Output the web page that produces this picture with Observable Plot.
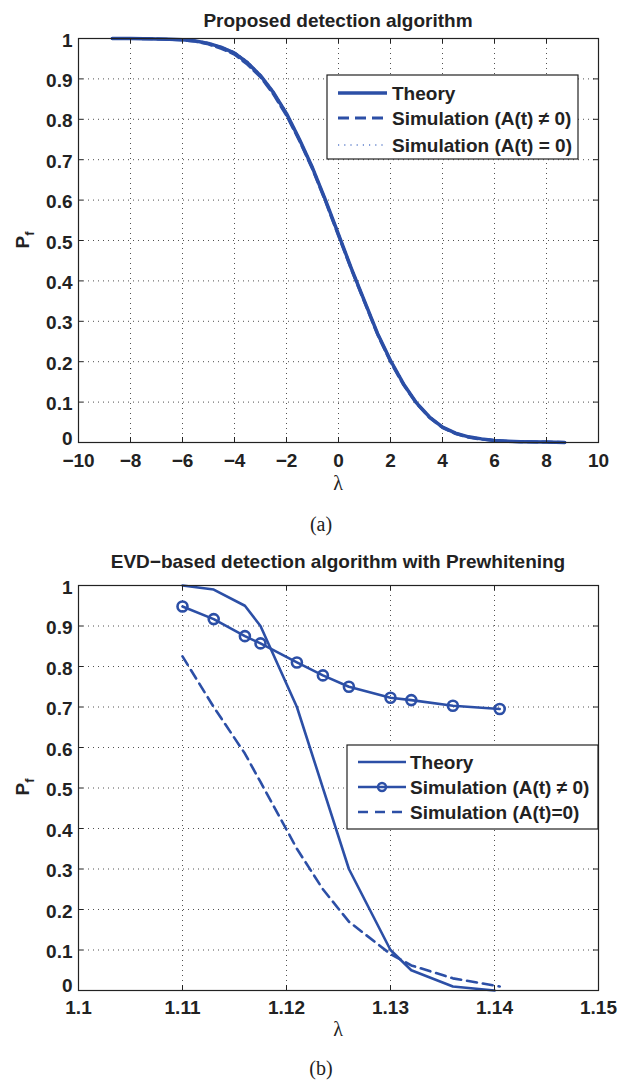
<!DOCTYPE html>
<html><head><meta charset="utf-8">
<script src="https://cdn.jsdelivr.net/npm/d3@7"></script>
<script src="https://cdn.jsdelivr.net/npm/@observablehq/plot@0.6"></script>
<style>
body{margin:0;background:#fff;width:629px;height:1081px;position:relative;overflow:hidden}
.abs{position:absolute;left:0}
</style></head><body>
<div id="c1" class="abs" style="top:0"></div>
<div id="c2" class="abs" style="top:540px"></div>
<svg id="ov" class="abs" style="top:0" width="629" height="1081" xmlns="http://www.w3.org/2000/svg"></svg>
<script>
// ---------- Data: panel (a) Proposed detection algorithm ----------
const aLambda = [-8.7,-8,-7,-6.5,-6,-5.5,-5,-4.5,-4,-3.5,-3,-2.5,-2,-1.5,-1,-0.5,0,0.5,1,1.5,2,2.5,3,3.5,4,4.5,5,5.5,6,6.5,7,8,8.7];
const aTheory = [1.0,1.0,0.999,0.998,0.997,0.994,0.988,0.978,0.964,0.94,0.908,0.866,0.814,0.75,0.68,0.60,0.515,0.43,0.35,0.27,0.203,0.145,0.098,0.063,0.038,0.023,0.014,0.009,0.005,0.003,0.002,0.001,0.0];
const aSimNonzero = [1.0,1.0,0.999,0.998,0.996,0.993,0.986,0.975,0.961,0.936,0.905,0.862,0.81,0.747,0.677,0.597,0.512,0.428,0.348,0.268,0.2,0.143,0.097,0.062,0.037,0.022,0.013,0.008,0.005,0.003,0.002,0.001,0.0];
const aSimZero = [1.0,1.0,0.999,0.998,0.997,0.995,0.989,0.979,0.966,0.942,0.91,0.868,0.816,0.752,0.682,0.602,0.517,0.432,0.352,0.272,0.205,0.147,0.099,0.064,0.039,0.024,0.015,0.009,0.006,0.003,0.002,0.001,0.0];
const aXTicks = [-10,-8,-6,-4,-2,0,2,4,6,8,10];
const yTicks = [0,0.1,0.2,0.3,0.4,0.5,0.6,0.7,0.8,0.9,1];

// ---------- Data: panel (b) EVD-based detection with prewhitening ----------
const bLambdaTheory = [1.11,1.113,1.116,1.1175,1.121,1.126,1.13,1.132,1.136,1.14];
const bTheory = [1.0,0.99,0.95,0.90,0.70,0.30,0.10,0.05,0.01,0.0];
const bLambdaSim = [1.11,1.113,1.116,1.1175,1.121,1.1235,1.126,1.13,1.132,1.136,1.1405];
const bSimNonzero = [0.948,0.917,0.875,0.857,0.81,0.778,0.75,0.723,0.717,0.703,0.695];
const bLambdaZero = [1.11,1.113,1.116,1.1175,1.121,1.1235,1.126,1.13,1.132,1.136,1.1405];
const bSimZero = [0.825,0.70,0.585,0.515,0.35,0.25,0.17,0.09,0.062,0.03,0.01];
const bXTicks = [1.1,1.11,1.12,1.13,1.14,1.15];

const BLUE = "#2c4fa6";
const FONT = '"Liberation Sans", Arial, Helvetica, sans-serif';
const SERIF = '"Liberation Serif", "Times New Roman", serif';
const FS = 19;
const fmtY = d => String(d);
const axisText = {fontSize: FS, fontWeight: "bold", fontFamily: FONT, fill: "#222"};

function inwardTicks(xt, yt, W, H) {
  return [
    Plot.tickX(xt, {x: d => d, insetTop: H - 5, stroke: "#222"}),
    Plot.tickX(xt, {x: d => d, insetBottom: H - 5, stroke: "#222"}),
    Plot.tickY(yt, {y: d => d, insetRight: W - 5, stroke: "#222"}),
    Plot.tickY(yt, {y: d => d, insetLeft: W - 5, stroke: "#222"})
  ];
}
function yAxes(zeroDy) {
  return [
    Plot.axisY(yTicks.filter(d => d > 0), {tickSize: 0, tickPadding: 6, tickFormat: fmtY, label: null, dy: 2, ...axisText}),
    Plot.axisY([0], {tickSize: 0, tickPadding: 6, tickFormat: fmtY, label: null, dy: zeroDy, ...axisText})
  ];
}
const gridStyle = {stroke: "#333", strokeOpacity: 0.85, strokeDasharray: "1,4", strokeWidth: 1};

// Panel (a)
const A = aLambda.map((x, i) => ({x, th: aTheory[i], s1: aSimNonzero[i], s0: aSimZero[i]}));
const W = 629 - 78 - 31;
const H1 = 404;
const p1 = Plot.plot({
  width: 629, height: 500, marginTop: 38, marginBottom: 58, marginLeft: 78, marginRight: 31,
  style: {fontFamily: FONT, fontSize: FS + "px", fontWeight: "bold", color: "#222", background: "white", overflow: "visible"},
  x: {domain: [-10, 10]},
  y: {domain: [0, 1]},
  marks: [
    Plot.gridX(aXTicks, gridStyle),
    Plot.gridY(yTicks, gridStyle),
    Plot.line(A, {x: "x", y: "th", stroke: BLUE, strokeWidth: 3.5}),
    Plot.line(A, {x: "x", y: "s1", stroke: BLUE, strokeWidth: 3, strokeDasharray: "10,5"}),
    Plot.line(A, {x: "x", y: "s0", stroke: BLUE, strokeWidth: 2, strokeDasharray: "1.5,3"}),
    ...inwardTicks(aXTicks, yTicks, W, H1),
    Plot.frame({stroke: "#222", strokeWidth: 1.2}),
    Plot.axisX(aXTicks, {tickSize: 0, tickPadding: 11, tickFormat: d => d < 0 ? "\u2212" + (-d) : String(d), label: null, ...axisText}),
    ...yAxes(-3.2)
  ]
});
document.getElementById("c1").appendChild(p1);

// Panel (b)
const BT = bLambdaTheory.map((x, i) => ({x, y: bTheory[i]}));
const BS = bLambdaSim.map((x, i) => ({x, y: bSimNonzero[i]}));
const BZ = bLambdaZero.map((x, i) => ({x, y: bSimZero[i]}));
const H2 = 405;
const p2 = Plot.plot({
  width: 629, height: 500, marginTop: 45, marginBottom: 50, marginLeft: 78, marginRight: 31,
  style: {fontFamily: FONT, fontSize: FS + "px", fontWeight: "bold", color: "#222", background: "white", overflow: "visible"},
  x: {domain: [1.1, 1.15]},
  y: {domain: [0, 1]},
  marks: [
    Plot.gridX(bXTicks, gridStyle),
    Plot.gridY(yTicks, gridStyle),
    Plot.line(BT, {x: "x", y: "y", stroke: BLUE, strokeWidth: 2.6}),
    Plot.line(BS, {x: "x", y: "y", stroke: BLUE, strokeWidth: 2.6}),
    Plot.dot(BS, {x: "x", y: "y", r: 5, stroke: BLUE, strokeWidth: 2.6, fill: "none"}),
    Plot.line(BZ, {x: "x", y: "y", stroke: BLUE, strokeWidth: 2.6, strokeDasharray: "10,6"}),
    ...inwardTicks(bXTicks, yTicks, W, H2),
    Plot.frame({stroke: "#222", strokeWidth: 1.2}),
    Plot.axisX(bXTicks, {tickSize: 0, tickPadding: 10, tickFormat: d => d.toFixed(2).replace(/0$/, ""), label: null, ...axisText}),
    ...yAxes(-4.2)
  ]
});
document.getElementById("c2").appendChild(p2);

// ---------- Overlay: titles, axis labels, captions, legends ----------
const ov = d3.select("#ov");
function txt(x, y, s, o = {}) {
  return ov.append("text").attr("x", x).attr("y", y).attr("text-anchor", o.anchor || "middle")
    .attr("font-family", o.family || FONT).attr("font-size", o.size || FS)
    .attr("font-weight", o.weight || "bold").attr("fill", "#222").text(s);
}
txt(338, 27, "Proposed detection algorithm");
txt(338, 490, "\u03bb", {family: SERIF, weight: "normal", size: 20});
txt(321, 531, "(a)", {family: SERIF, weight: "normal", size: 20});
txt(338, 568, "EVD\u2212based detection algorithm with Prewhitening");
txt(338, 1036, "\u03bb", {family: SERIF, weight: "normal", size: 20});
txt(321, 1075, "(b)", {family: SERIF, weight: "normal", size: 20});

function pf(cy) {
  const t = ov.append("text").attr("transform", `translate(29,${cy}) rotate(-90)`)
    .attr("text-anchor", "middle").attr("font-family", FONT).attr("font-weight", "bold")
    .attr("font-size", FS).attr("fill", "#222");
  t.append("tspan").text("P");
  t.append("tspan").attr("font-size", 13).attr("dy", 5).text("f");
}
pf(240);
pf(787);

function legend(x0, y0, w, h, items, lx0, lx1, tx) {
  ov.append("rect").attr("x", x0).attr("y", y0).attr("width", w).attr("height", h)
    .attr("fill", "white").attr("stroke", "#222").attr("stroke-width", 1.2);
  items.forEach(it => {
    ov.append("line").attr("x1", lx0).attr("x2", lx1).attr("y1", it.y).attr("y2", it.y)
      .attr("stroke", it.color || BLUE).attr("stroke-width", it.w).attr("stroke-dasharray", it.dash || null);
    if (it.marker) ov.append("circle").attr("cx", (lx0 + lx1) / 2).attr("cy", it.y).attr("r", 4)
      .attr("fill", "none").attr("stroke", BLUE).attr("stroke-width", 2.4);
    txt(tx, it.y + 6.5, it.label, {anchor: "start"});
  });
}
legend(327, 75, 251, 84, [
  {y: 93, w: 3.5, label: "Theory"},
  {y: 118, w: 3.2, dash: "11,6", label: "Simulation (A(t) \u2260 0)"},
  {y: 145, w: 1.6, dash: "1.2,5", color: "#5f80cc", label: "Simulation (A(t) = 0)"}
], 338, 387, 392);
legend(347, 745, 251, 84, [
  {y: 762, w: 2.6, label: "Theory"},
  {y: 787, w: 2.6, marker: true, label: "Simulation (A(t) \u2260 0)"},
  {y: 812, w: 2.6, dash: "10,7", label: "Simulation (A(t)=0)"}
], 358, 406, 410);
</script></body></html>
